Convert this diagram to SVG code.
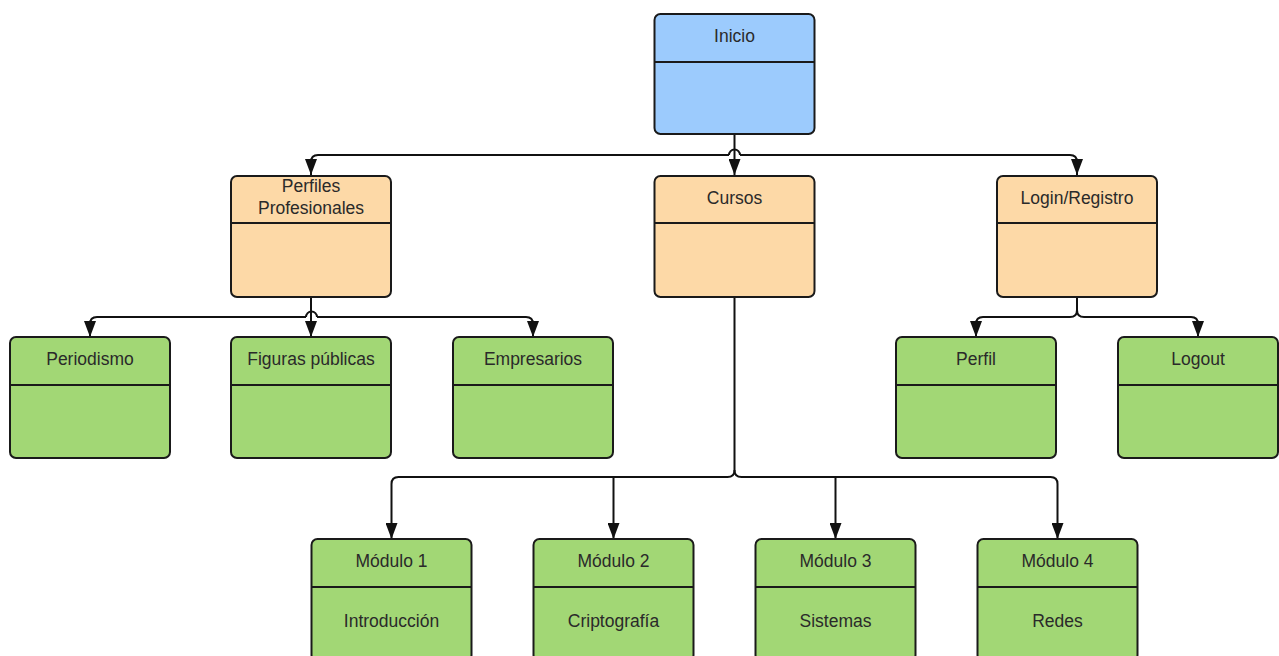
<svg xmlns="http://www.w3.org/2000/svg" width="1279" height="656" viewBox="0 0 1279 656">
<defs>
<style>
.box{stroke:#1a1a1a;stroke-width:2}
.div{stroke:#1a1a1a;stroke-width:2}
.blue{fill:#9ccbfd}
.orange{fill:#fdd9a7}
.green{fill:#a2d775}
text{font-family:"Liberation Sans",Arial,sans-serif;font-size:17.5px;fill:#2a2a2a;text-anchor:middle}
.conn path{fill:none;stroke:#111;stroke-width:2}
</style>
<marker id="arr" markerWidth="16" markerHeight="12" refX="16" refY="6" orient="auto" markerUnits="userSpaceOnUse" viewBox="0 0 16 12">
<path d="M0,0 L16,6 L0,12 Z" fill="#111"/>
</marker>
</defs>
<rect width="1279" height="656" fill="#fff"/>
<g class="conn" id="connectors">
<path d="M734.5,134 V175" marker-end="url(#arr)"/>
<path d="M729,155 H318 Q311,155 311,162 V175" marker-end="url(#arr)"/>
<path d="M740,155 H1070 Q1077,155 1077,162 V175" marker-end="url(#arr)"/>
<path d="M729,155 A5.5,5.5 0 0 1 740,155"/>
<path d="M311,297 V337" marker-end="url(#arr)"/>
<path d="M306,317 H97 Q90,317 90,324 V337" marker-end="url(#arr)"/>
<path d="M317,317 H526 Q533,317 533,324 V337" marker-end="url(#arr)"/>
<path d="M306,317 A5.5,5.5 0 0 1 317,317"/>
<path d="M1077,297 V310 Q1077,317 1070,317 H983 Q976,317 976,324 V337" marker-end="url(#arr)"/>
<path d="M1077,310 Q1077,317 1084,317 H1191 Q1198,317 1198,324 V337" marker-end="url(#arr)"/>
<path d="M734.5,297 V470 Q734.5,477 727.5,477 H398.5 Q391.5,477 391.5,484 V539" marker-end="url(#arr)"/>
<path d="M734.5,470 Q734.5,477 741.5,477 H1050.5 Q1057.5,477 1057.5,484 V539" marker-end="url(#arr)"/>
<path d="M613.5,477 V539" marker-end="url(#arr)"/>
<path d="M835.5,477 V539" marker-end="url(#arr)"/>
</g>
<g id="inicio">
<rect class="box blue" x="654.5" y="14" width="160" height="120" rx="6"/>
<line class="div" x1="654.5" y1="62" x2="814.5" y2="62"/>
<text x="734.5" y="42">Inicio</text>
</g>
<g id="perfiles">
<rect class="box orange" x="231" y="176" width="160" height="121" rx="6"/>
<line class="div" x1="231" y1="223" x2="391" y2="223"/>
<text x="311" y="192">Perfiles</text>
<text x="311" y="214">Profesionales</text>
</g>
<g id="cursos">
<rect class="box orange" x="654.5" y="176" width="160" height="121" rx="6"/>
<line class="div" x1="654.5" y1="223" x2="814.5" y2="223"/>
<text x="734.5" y="204">Cursos</text>
</g>
<g id="login">
<rect class="box orange" x="997" y="176" width="160" height="121" rx="6"/>
<line class="div" x1="997" y1="223" x2="1157" y2="223"/>
<text x="1077" y="204">Login/Registro</text>
</g>
<g id="periodismo">
<rect class="box green" x="10" y="337" width="160" height="121" rx="6"/>
<line class="div" x1="10" y1="385" x2="170" y2="385"/>
<text x="90" y="365">Periodismo</text>
</g>
<g id="figuras">
<rect class="box green" x="231" y="337" width="160" height="121" rx="6"/>
<line class="div" x1="231" y1="385" x2="391" y2="385"/>
<text x="311" y="365">Figuras públicas</text>
</g>
<g id="empresarios">
<rect class="box green" x="453" y="337" width="160" height="121" rx="6"/>
<line class="div" x1="453" y1="385" x2="613" y2="385"/>
<text x="533" y="365">Empresarios</text>
</g>
<g id="perfil">
<rect class="box green" x="896" y="337" width="160" height="121" rx="6"/>
<line class="div" x1="896" y1="385" x2="1056" y2="385"/>
<text x="976" y="365">Perfil</text>
</g>
<g id="logout">
<rect class="box green" x="1118" y="337" width="160" height="121" rx="6"/>
<line class="div" x1="1118" y1="385" x2="1278" y2="385"/>
<text x="1198" y="365">Logout</text>
</g>
<g id="modulo1">
<rect class="box green" x="311.5" y="539" width="160" height="122" rx="6"/>
<line class="div" x1="311.5" y1="587" x2="471.5" y2="587"/>
<text x="391.5" y="567">Módulo 1</text>
<text x="391.5" y="627">Introducción</text>
</g>
<g id="modulo2">
<rect class="box green" x="533.5" y="539" width="160" height="122" rx="6"/>
<line class="div" x1="533.5" y1="587" x2="693.5" y2="587"/>
<text x="613.5" y="567">Módulo 2</text>
<text x="613.5" y="627">Criptografía</text>
</g>
<g id="modulo3">
<rect class="box green" x="755.5" y="539" width="160" height="122" rx="6"/>
<line class="div" x1="755.5" y1="587" x2="915.5" y2="587"/>
<text x="835.5" y="567">Módulo 3</text>
<text x="835.5" y="627">Sistemas</text>
</g>
<g id="modulo4">
<rect class="box green" x="977.5" y="539" width="160" height="122" rx="6"/>
<line class="div" x1="977.5" y1="587" x2="1137.5" y2="587"/>
<text x="1057.5" y="567">Módulo 4</text>
<text x="1057.5" y="627">Redes</text>
</g>
</svg>
